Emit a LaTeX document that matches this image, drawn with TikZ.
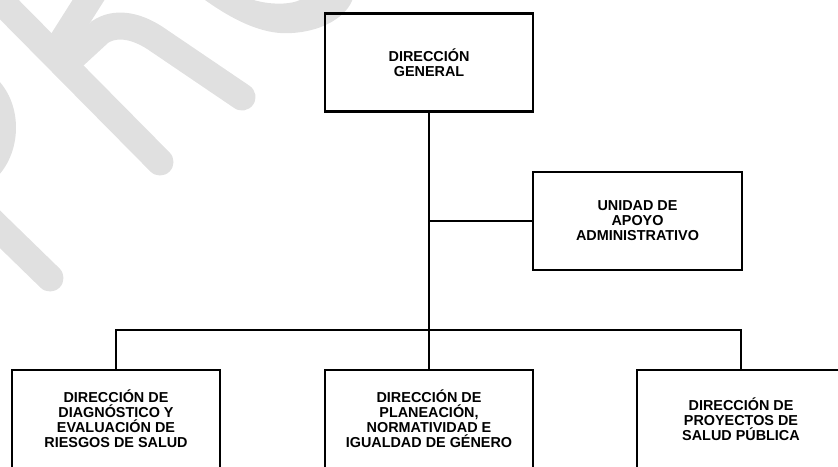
\documentclass[tikz,border=0pt]{standalone}
\usepackage{fontspec}
\setmainfont{Liberation Sans}
\definecolor{wmgray}{RGB}{224,224,224}
\begin{document}
\begin{tikzpicture}[x=1pt,y=-1pt,
  orgbox/.style={draw=black, line width=2.7pt, fill=none, minimum width=208pt, minimum height=98pt,
    inner sep=0pt, align=center, font=\fontsize{14.4}{15}\selectfont\bfseries},
  conn/.style={draw=black, line width=2.8pt},
  wm/.style={draw=wmgray, line width=27pt, line cap=round}]
\useasboundingbox (0,0) rectangle (838,466);
% watermark
\draw[wm] (-20,-20) -- (160,162);
\draw[wm] (-25,205) -- (50,278);
\draw[wm] (60,45) -- (98,-15);
\draw[wm] (75,55) -- (100,32) .. controls (115,22) and (135,25) .. (155,38) -- (242,97);
\fill[wmgray] (-2,80) .. controls (22,105) and (22,150) .. (-2,176) -- cycle;
\fill[wmgray] (205,0) .. controls (240,25) and (268,35) .. (292,33) .. controls (325,31) and (348,15) .. (353,-2)
  -- (303,-2) .. controls (295,5) and (268,6) .. (248,-2) -- cycle;
% boxes
\node[orgbox] (dg) at (429,62.5) {DIRECCIÓN\\GENERAL};
\node[orgbox, minimum width=209pt] (ua) at (637.5,221) {UNIDAD DE\\APOYO\\ADMINISTRATIVO};
\node[orgbox] (b1) at (116,419) {DIRECCIÓN DE\\DIAGNÓSTICO Y\\EVALUACIÓN DE\\RIESGOS DE SALUD};
\node[orgbox] (b2) at (429,419) {DIRECCIÓN DE\\PLANEACIÓN,\\NORMATIVIDAD E\\IGUALDAD DE GÉNERO};
\node[orgbox] (b3) at (741,419) {DIRECCIÓN DE\\PROYECTOS DE\\SALUD PÚBLICA};
\coordinate (bus) at (429,330);
% connectors
\draw[conn] (dg.south) -- (b2.north);
\draw[conn] (dg.south |- ua.west) -- (ua.west);
\draw[conn] (b1.north) -- (b1.north |- bus) -- (b3.north |- bus) -- (b3.north);
\end{tikzpicture}
\end{document}
